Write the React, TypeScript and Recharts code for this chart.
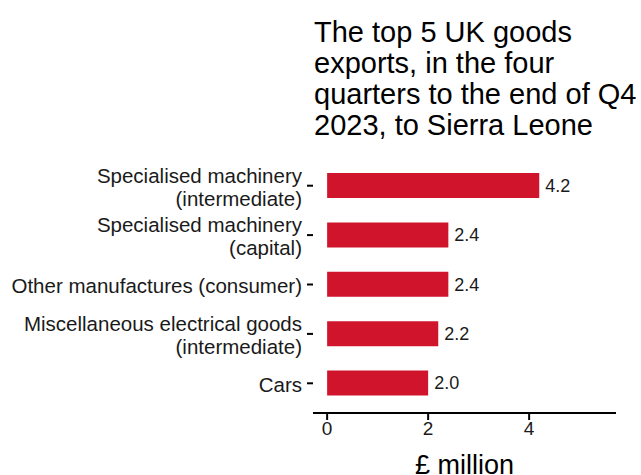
import { BarChart, Bar, XAxis, YAxis, LabelList, Label } from 'recharts'

const categories = [
  'Specialised machinery\n(intermediate)',
  'Specialised machinery\n(capital)',
  'Other manufactures (consumer)',
  'Miscellaneous electrical goods\n(intermediate)',
  'Cars',
]
const values = [4.2, 2.4, 2.4, 2.2, 2.0]
const xTicks = [0, 2, 4]
const titleLines = [
  'The top 5 UK goods',
  'exports, in the four',
  'quarters to the end of Q4',
  '2023, to Sierra Leone',
]

const data = categories.map((name, i) => ({ name, value: values[i] }))

const FONT = '"Liberation Sans", Arial, sans-serif'

const CategoryTick = (props: any) => {
  const { x, y, payload } = props
  const lines = String(payload.value).split('\n')
  const lh = 23
  const start = -((lines.length - 1) * lh) / 2 + 1
  return (
    <text x={x} y={y} textAnchor="end" fill="#1a1a1a" fontSize={20.5} fontFamily={FONT}>
      {lines.map((l, i) => (
        <tspan key={i} x={x} y={y + start + i * lh} dy="0.36em">
          {l}
        </tspan>
      ))}
    </text>
  )
}

export default function App() {
  return (
    <div style={{ position: 'absolute', left: 0, top: 0, width: 641, height: 475, background: '#fff' }}>
      <div
        style={{
          position: 'absolute',
          left: 314,
          top: 17,
          fontFamily: FONT,
          fontSize: 29,
          lineHeight: '31px',
          color: '#000',
          whiteSpace: 'nowrap',
        }}
      >
        {titleLines.map((t) => (
          <div key={t}>{t}</div>
        ))}
      </div>
      <BarChart
        width={641}
        height={475}
        data={data}
        layout="vertical"
        margin={{ top: 156, right: 25, bottom: 0, left: 0 }}
        barSize={25}
      >
        <XAxis
          type="number"
          domain={[-0.28, 5.72]}
          ticks={xTicks}
          allowDataOverflow
          height={62}
          axisLine={{ stroke: '#000', strokeWidth: 2 }}
          tickLine={{ stroke: '#000', strokeWidth: 2 }}
          tickSize={7}
          tick={{ fill: '#1a1a1a', fontSize: 19, fontFamily: FONT }}
        >
          <Label
            value="£ million"
            position="insideTop"
            offset={42}
            fill="#000"
            fontSize={27}
            fontFamily={FONT}
          />
        </XAxis>
        <YAxis
          type="category"
          dataKey="name"
          width={313}
          axisLine={false}
          tickLine={{ stroke: '#000', strokeWidth: 2 }}
          tickSize={6}
          tickMargin={5}
          padding={{ top: 5, bottom: 5 }}
          tick={<CategoryTick />}
          interval={0}
        />
        <Bar dataKey="value" fill="#CF142B" isAnimationActive={false}>
          <LabelList
            dataKey="value"
            position="right"
            offset={6}
            formatter={(v: any) => Number(v).toFixed(1)}
            fill="#1a1a1a"
            fontSize={18}
            fontFamily={FONT}
          />
        </Bar>
      </BarChart>
    </div>
  )
}
